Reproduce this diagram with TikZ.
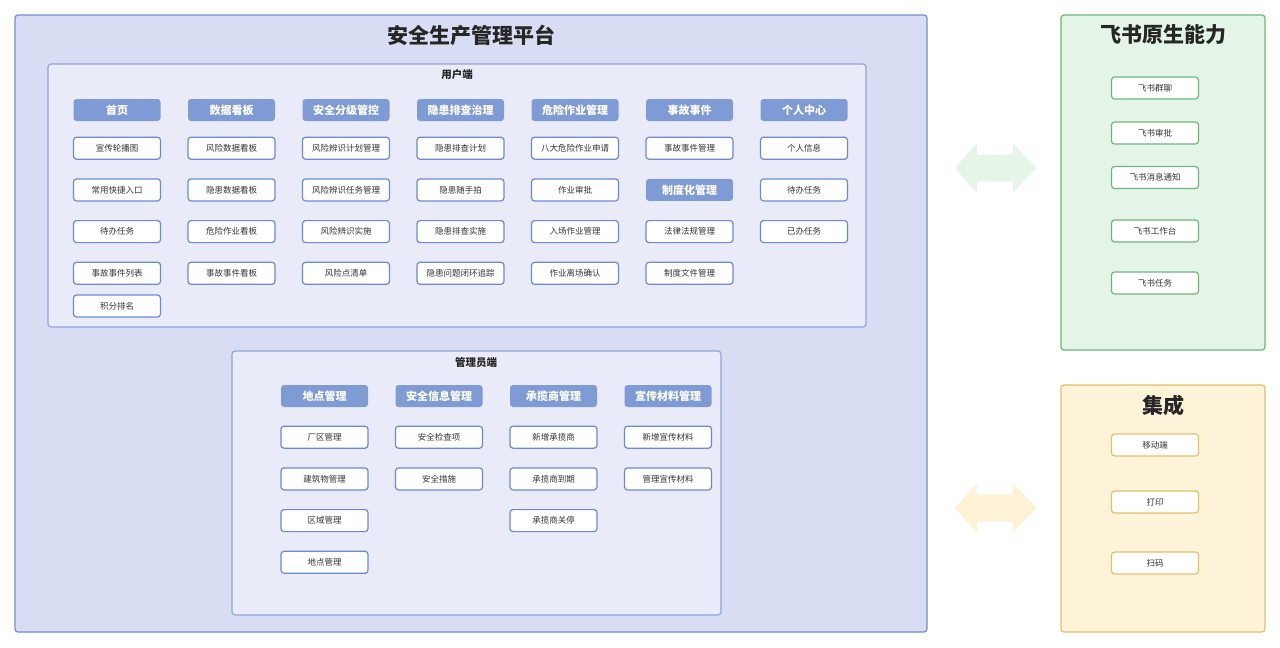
\documentclass[tikz,border=0pt]{standalone}
\usepackage{fontspec}
\setmainfont{Noto Sans CJK SC}

\definecolor{platfill}{HTML}{D8DDF3}
\definecolor{platline}{HTML}{6E8ED8}
\definecolor{secfill}{HTML}{E9ECF8}
\definecolor{secline}{HTML}{8DA4DE}
\definecolor{headfill}{HTML}{7F9BD6}
\definecolor{itemline}{HTML}{6A8AD4}
\definecolor{fsfill}{HTML}{E4F5E7}
\definecolor{fsline}{HTML}{6BB87A}
\definecolor{fsarrow}{HTML}{E5F6E8}
\definecolor{jcfill}{HTML}{FDF3D9}
\definecolor{jcline}{HTML}{E2C169}
\definecolor{jcarrow}{HTML}{FDF1D6}
\definecolor{txt}{HTML}{333333}

\tikzset{
  frame/.style={rounded corners=3pt, line width=1.2pt},
  bigtitle/.style={font=\bfseries\fontsize{21}{21}\selectfont, text=black!85},
  sectitle/.style={font=\bfseries\fontsize{10.5}{10.5}\selectfont, text=black!85},
  head/.style={rectangle, rounded corners=3pt, fill=headfill, text=white,
    font=\bfseries\fontsize{11}{11}\selectfont,
    minimum width=87pt, minimum height=22pt, inner sep=0pt},
  item/.style={rectangle, rounded corners=3pt, draw=itemline, line width=1.2pt,
    fill=white, text=txt, font=\fontsize{8.5}{8.5}\selectfont,
    minimum width=87pt, minimum height=22pt, inner sep=0pt},
  fsitem/.style={item, draw=fsline},
  jcitem/.style={item, draw=jcline}
}

\begin{document}
\begin{tikzpicture}[x=1pt, y=-1pt]
    \useasboundingbox[fill=white] (0,0) rectangle (1280,648);

    % Platform frame
    \draw[frame, draw=platline, fill=platfill] (15,15) rectangle (927,632);
    \node[bigtitle] (plattitle) at (471,35) {安全生产管理平台};

    % User side
    \draw[frame, draw=secline, fill=secfill] (48,64) rectangle (866,327);
    \node[sectitle] (usertitle) at (457,75) {用户端};

    \foreach \h [count=\i] in {首页,数据看板,安全分级管控,隐患排查治理,危险作业管理,事故事件,个人中心} {
        \node[head] (uh\i) at ({117+114.5*(\i-1)},110) {\h};
    }

    \foreach \t [count=\j] in {宣传轮播图,常用快捷入口,待办任务,事故事件列表} {
        \node[item] (u1-\j) at (117,{106.5+41.7*\j}) {\t};
    }
    \node[item] (u1-5) at (117,306) {积分排名};

    \foreach \t [count=\j] in {风险数据看板,隐患数据看板,危险作业看板,事故事件看板} {
        \node[item] (u2-\j) at (231.5,{106.5+41.7*\j}) {\t};
    }
    \foreach \t [count=\j] in {风险辨识计划管理,风险辨识任务管理,风险辨识实施,风险点清单} {
        \node[item] (u3-\j) at (346,{106.5+41.7*\j}) {\t};
    }
    \foreach \t [count=\j] in {隐患排查计划,隐患随手拍,隐患排查实施,隐患问题闭环追踪} {
        \node[item] (u4-\j) at (460.5,{106.5+41.7*\j}) {\t};
    }
    \foreach \t [count=\j] in {八大危险作业申请,作业审批,入场作业管理,作业离场确认} {
        \node[item] (u5-\j) at (575,{106.5+41.7*\j}) {\t};
    }

    \node[item] (u6-1) at (689.5,148.2) {事故事件管理};
    \node[head] (uh8) at (689.5,189.9) {制度化管理};
    \node[item] (u6-2) at (689.5,231.6) {法律法规管理};
    \node[item] (u6-3) at (689.5,273.3) {制度文件管理};

    \foreach \t [count=\j] in {个人信息,待办任务,已办任务} {
        \node[item] (u7-\j) at (804,{106.5+41.7*\j}) {\t};
    }

    % Admin side
    \draw[frame, draw=secline, fill=secfill] (232,351) rectangle (721,615);
    \node[sectitle] (admintitle) at (476,363) {管理员端};

    \foreach \h [count=\i] in {地点管理,安全信息管理,承揽商管理,宣传材料管理} {
        \node[head] (ah\i) at ({324.5+114.5*(\i-1)},396) {\h};
    }
    \foreach \t [count=\j] in {厂区管理,建筑物管理,区域管理,地点管理} {
        \node[item] (a1-\j) at (324.5,{395.5+41.7*\j}) {\t};
    }
    \foreach \t [count=\j] in {安全检查项,安全措施} {
        \node[item] (a2-\j) at (439,{395.5+41.7*\j}) {\t};
    }
    \foreach \t [count=\j] in {新增承揽商,承揽商到期,承揽商关停} {
        \node[item] (a3-\j) at (553.5,{395.5+41.7*\j}) {\t};
    }
    \foreach \t [count=\j] in {新增宣传材料,管理宣传材料} {
        \node[item] (a4-\j) at (668,{395.5+41.7*\j}) {\t};
    }

    % Double arrows
    \foreach \cy/\col in {168/fsarrow, 508/jcarrow} {
        \fill[\col] (955,\cy) -- (977,\cy-25) -- (977,\cy-13.5) -- (1013,\cy-13.5)
            -- (1013,\cy-25) -- (1036,\cy) -- (1013,\cy+25) -- (1013,\cy+13.5)
            -- (977,\cy+13.5) -- (977,\cy+25) -- cycle;
    }

    % Feishu native
    \draw[frame, draw=fsline, fill=fsfill] (1061,15) rectangle (1265,350);
    \node[bigtitle] (fstitle) at (1163,35) {飞书原生能力};
    \foreach \t/\y [count=\j] in {飞书群聊/88,飞书审批/133,飞书消息通知/177.5,飞书工作台/231,飞书任务/283} {
        \node[fsitem] (fs\j) at (1155,\y) {\t};
    }

    % Integration
    \draw[frame, draw=jcline, fill=jcfill] (1061,385) rectangle (1265,632);
    \node[bigtitle] (jctitle) at (1163,405) {集成};
    \foreach \t/\y [count=\j] in {移动端/445,打印/502,扫码/563} {
        \node[jcitem] (jc\j) at (1155,\y) {\t};
    }
\end{tikzpicture}
\end{document}
